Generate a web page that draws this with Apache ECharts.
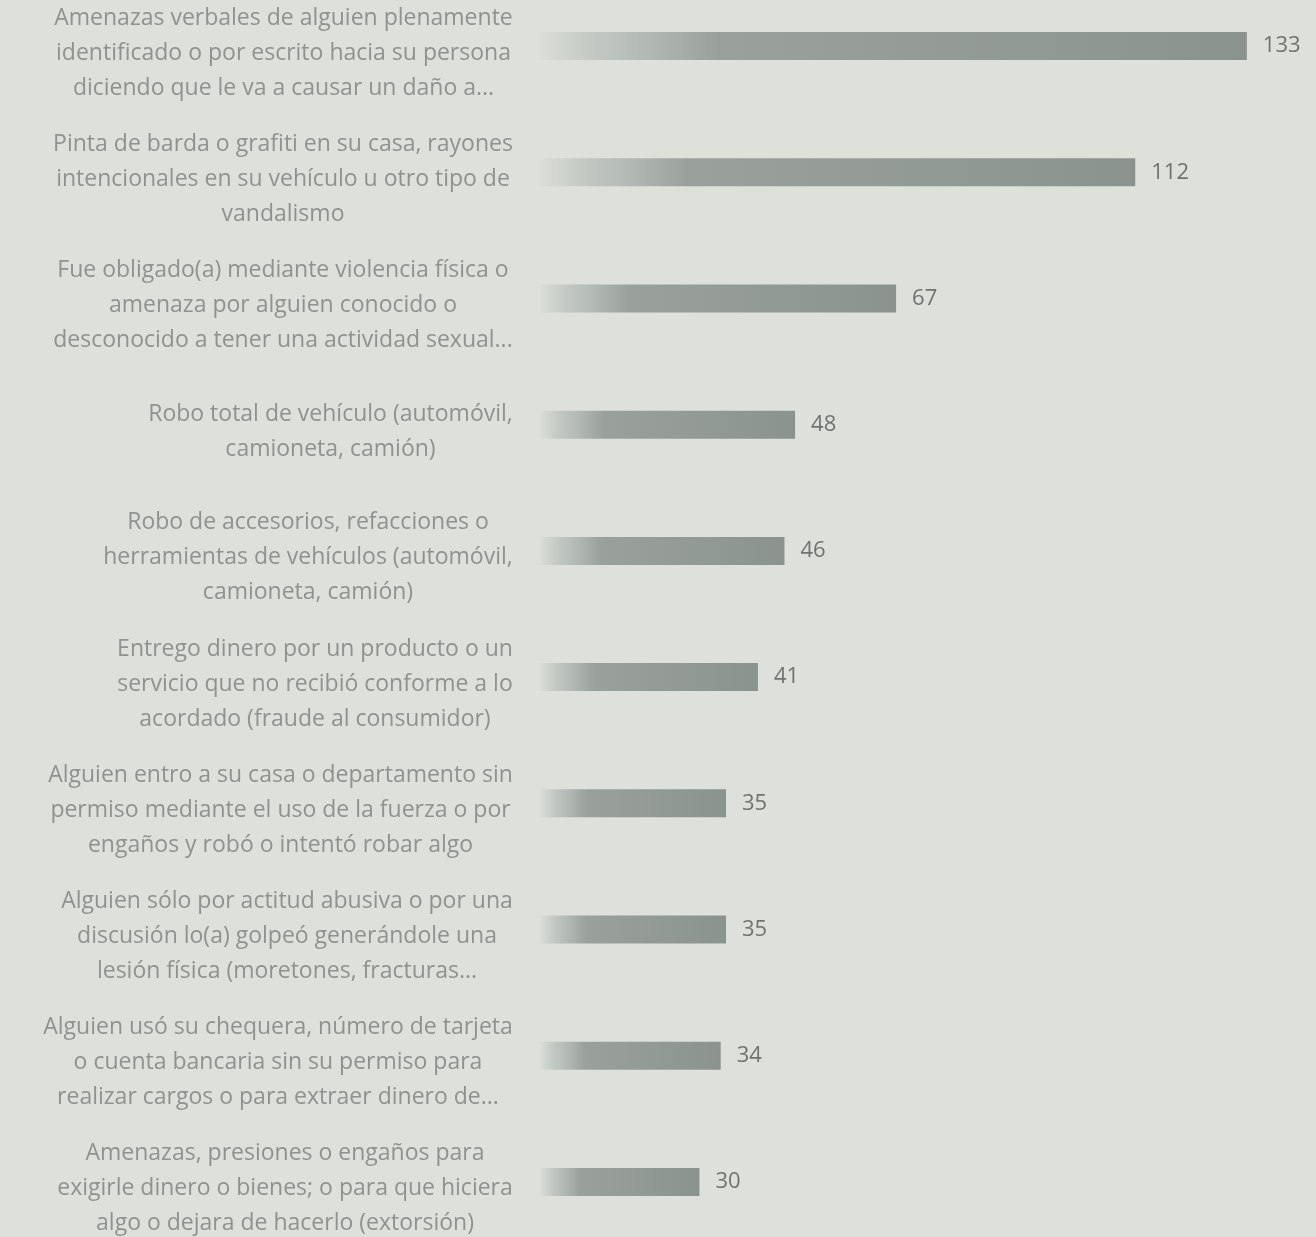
<!DOCTYPE html>
<html>
<head>
<meta charset="utf-8">
<script src="https://cdn.jsdelivr.net/npm/echarts@6/dist/echarts.min.js"></script>
<style>
html,body{margin:0;padding:0;background:#dfe2dd;}
#chart{width:1316px;height:1237px;}
</style>
</head>
<body>
<div id="chart"></div>
<script>
const categories = [
  "Amenazas verbales de alguien plenamente\nidentificado o por escrito hacia su persona\ndiciendo que le va a causar un daño a...",
  "Pinta de barda o grafiti en su casa, rayones\nintencionales en su vehículo u otro tipo de\nvandalismo",
  "Fue obligado(a) mediante violencia física o\namenaza por alguien conocido o\ndesconocido a tener una actividad sexual...",
  "Robo total de vehículo (automóvil,\ncamioneta, camión)",
  "Robo de accesorios, refacciones o\nherramientas de vehículos (automóvil,\ncamioneta, camión)",
  "Entrego dinero por un producto o un\nservicio que no recibió conforme a lo\nacordado (fraude al consumidor)",
  "Alguien entro a su casa o departamento sin\npermiso mediante el uso de la fuerza o por\nengaños y robó o intentó robar algo",
  "Alguien sólo por actitud abusiva o por una\ndiscusión lo(a) golpeó generándole una\nlesión física (moretones, fracturas...",
  "Alguien usó su chequera, número de tarjeta\no cuenta bancaria sin su permiso para\nrealizar cargos o para extraer dinero de...",
  "Amenazas, presiones o engaños para\nexigirle dinero o bienes; o para que hiciera\nalgo o dejara de hacerlo (extorsión)"
];
const values = [133, 112, 67, 48, 46, 41, 35, 35, 34, 30];

const FONT = '"Open Sans", "Noto Sans", sans-serif';
const FS = 23;
const ctx = document.createElement('canvas').getContext('2d');
ctx.font = FS + 'px ' + FONT;
const rich = {};
categories.forEach((c, i) => {
  const w = Math.max(...c.split('\n').map(l => ctx.measureText(l).width));
  rich['l' + i] = {width: Math.ceil(w) + 2, align: 'center', fontSize: FS, fontFamily: FONT, color: '#8f938f', lineHeight: 35};
});

const chart = echarts.init(document.getElementById('chart'));
chart.setOption({
  backgroundColor: '#dde0db',
  animation: false,
  grid: {left: 540, right: 16, top: -17, bottom: -8, containLabel: false, outerBoundsMode: 'none'},
  xAxis: {type: 'value', min: 0, max: 143, show: false},
  yAxis: {
    type: 'category',
    inverse: true,
    data: categories,
    axisLine: {show: false},
    axisTick: {show: false},
    axisLabel: {
      margin: 26,
      align: 'right',
      padding: [14, 0, 0, 0],
      formatter: (v, idx) => v.split('\n').map(l => '{l' + idx + '|' + l + '}').join('\n'),
      rich: rich
    }
  },
  series: [{
    type: 'bar',
    data: values,
    barWidth: 28,
    itemStyle: {
      color: new echarts.graphic.LinearGradient(0, 0, 1, 0, [
        {offset: 0, color: 'rgba(165,172,168,0.05)'},
        {offset: 0.08, color: 'rgba(160,168,163,0.45)'},
        {offset: 0.25, color: 'rgba(146,154,149,0.9)'},
        {offset: 1, color: '#8b938e'}
      ])
    },
    label: {
      show: true,
      position: 'right',
      distance: 16,
      fontSize: 22,
      fontFamily: FONT,
      color: '#6f7470'
    }
  }]
});
</script>
</body>
</html>
